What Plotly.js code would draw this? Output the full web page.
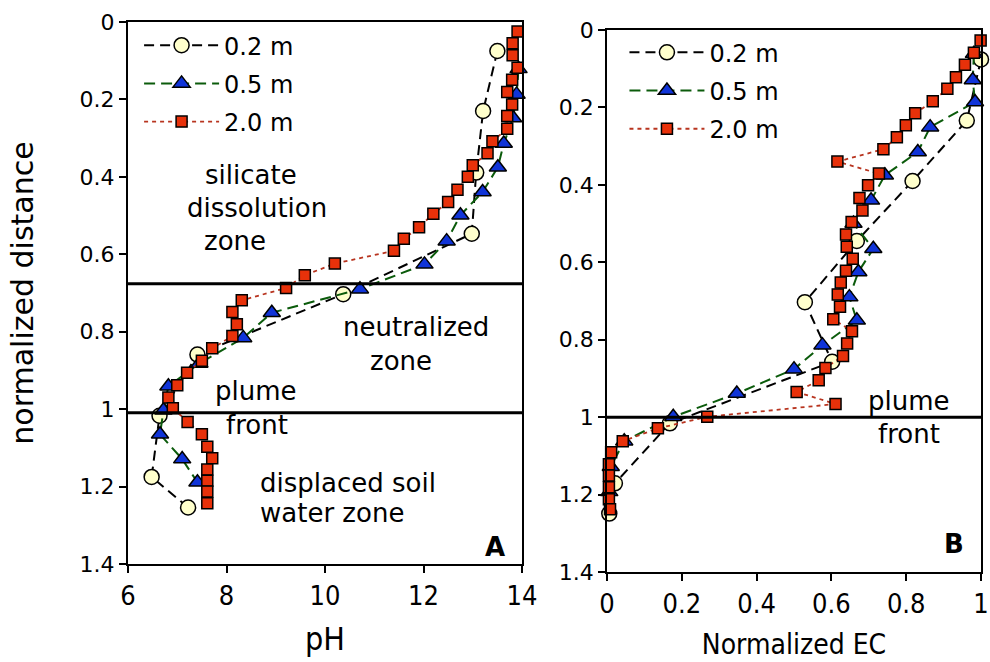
<!DOCTYPE html>
<html>
<head>
<meta charset="utf-8">
<script src="https://cdn.plot.ly/plotly-3.0.1.min.js"></script>
<style>html,body{margin:0;padding:0;background:#fff;}#chart{width:990px;height:662px;}</style>
</head>
<body>
<div id="chart"></div>
<script>
// ---------- Panel A: pH vs normalized distance ----------
const distA_02 = [0.075,0.230,0.389,0.547,0.703,0.859,1.017,1.175,1.254];
const phA_02   = [13.50,13.21,13.07,12.98,10.37,7.41,6.64,6.48,7.22];

const distA_05 = [0.121,0.187,0.248,0.314,0.375,0.439,0.499,0.566,0.626,0.690,0.751,0.816,0.882,0.941,1.003,1.065,1.129,1.189];
const phA_05   = [13.93,13.89,13.82,13.63,13.51,13.20,12.75,12.47,12.02,10.71,8.92,8.34,7.45,6.82,6.72,6.65,7.10,7.41];

const distA_20 = [0.0245,0.055,0.086,0.118,0.149,0.181,0.213,0.243,0.276,0.308,0.339,0.370,0.400,0.433,0.465,0.495,0.530,0.560,0.591,0.624,0.654,0.687,0.719,0.749,0.781,0.811,0.843,0.875,0.906,0.938,0.970,0.998,1.033,1.065,1.097,1.127,1.156,1.185,1.213,1.243];
const phA_20   = [13.91,13.81,13.81,13.91,13.80,13.70,13.80,13.70,13.70,13.40,13.30,13.00,12.90,12.69,12.50,12.20,11.91,11.60,11.40,10.20,9.59,9.21,8.31,8.12,8.21,8.12,7.71,7.50,7.20,7.00,6.82,6.91,7.21,7.50,7.61,7.71,7.61,7.61,7.61,7.61];

// ---------- Panel B: normalized EC vs normalized distance ----------
const distB_02 = [0.076,0.234,0.390,0.545,0.703,0.857,1.016,1.171,1.249];
const ecB_02   = [1.000,0.962,0.817,0.668,0.529,0.602,0.168,0.021,0.006];

const distB_05 = [0.061,0.129,0.186,0.251,0.315,0.375,0.440,0.500,0.565,0.625,0.690,0.750,0.814,0.876,0.939,0.999,1.062,1.128,1.193];
const ecB_05   = [0.981,0.978,0.984,0.864,0.831,0.743,0.706,0.659,0.712,0.672,0.648,0.668,0.576,0.500,0.347,0.177,0.046,0.010,0.006];

const distB_20 = [0.027,0.059,0.090,0.122,0.152,0.184,0.215,0.246,0.277,0.308,0.340,0.371,0.401,0.434,0.466,0.496,0.528,0.560,0.591,0.622,0.652,0.683,0.715,0.747,0.778,0.810,0.842,0.873,0.905,0.935,0.966,0.999,1.029,1.062,1.091,1.122,1.151,1.181,1.212,1.238];
const ecB_20   = [0.999,0.981,0.957,0.933,0.910,0.871,0.824,0.799,0.775,0.739,0.616,0.727,0.698,0.675,0.683,0.654,0.639,0.641,0.657,0.639,0.625,0.617,0.623,0.605,0.655,0.642,0.631,0.584,0.566,0.507,0.611,0.268,0.136,0.042,0.011,0.005,0.005,0.005,0.005,0.008];

const seriesNames = ['0.2 m','0.5 m','2.0 m'];
const phRange = [6,14];
const ecRange = [0,1];
const distRange = [1.4,0];
const zoneLinesA = [0.676, 1.0095];
const frontLineB = 1.0;

const FONT = 'DejaVu Sans, Verdana, sans-serif';
const COND = 'DejaVu Sans Condensed, DejaVu Sans, sans-serif';

const styles = [
  {line:{color:'#000000',width:2,dash:'10px,6px'}, marker:{symbol:'circle',size:15,color:'#FFFFCC',line:{color:'#000',width:1.5}}},
  {line:{color:'#0B5B0B',width:2,dash:'11px,6px'}, marker:{symbol:'triangle-up',size:15,color:'#1034D8',line:{color:'#000',width:1.5}}},
  {line:{color:'#B8341F',width:1.8,dash:'4px,4px'}, marker:{symbol:'square',size:11,color:'#E8310A',line:{color:'#000',width:1.5}}}
];

function tr(x,y,i,xa,ya,leg,grp){
  return {x:x,y:y,name:seriesNames[i],type:'scatter',mode:'lines+markers',
    xaxis:xa,yaxis:ya,legend:leg,legendgroup:grp+i,cliponaxis:false,
    line:styles[i].line,marker:styles[i].marker};
}

const data = [
  tr(phA_02,distA_02,0,'x','y','legend','a'),
  tr(phA_05,distA_05,1,'x','y','legend','a'),
  tr(phA_20,distA_20,2,'x','y','legend','a'),
  tr(ecB_02,distB_02,0,'x2','y2','legend2','b'),
  tr(ecB_05,distB_05,1,'x2','y2','legend2','b'),
  tr(ecB_20,distB_20,2,'x2','y2','legend2','b')
];

const axBase = {showline:true,linewidth:2,linecolor:'#000',mirror:true,showgrid:false,zeroline:false,
  ticks:'outside',ticklen:7,tickwidth:2,tickcolor:'#000'};

const ann = (x,y,t,xr,yr,extra)=>Object.assign({x:x,y:y,text:t,xref:xr,yref:yr,showarrow:false,
  font:{family:FONT,size:26,color:'#000'}},extra||{});

const layout = {
  width:990,height:662,
  margin:{l:128,r:9,t:21.5,b:90},
  paper_bgcolor:'#fff',plot_bgcolor:'#fff',
  font:{family:FONT,color:'#000'},
  showlegend:true,
  xaxis:Object.assign({},axBase,{domain:[0,0.4619],anchor:'y',range:phRange,dtick:2,
    tickfont:{family:COND,size:27},title:{text:'pH',font:{family:COND,size:32},standoff:17}}),
  yaxis:Object.assign({},axBase,{domain:[0.01453,1],anchor:'x',range:distRange,dtick:0.2,
    tickfont:{family:FONT,size:22},title:{text:'normalized distance',font:{family:FONT,size:30},standoff:37}}),
  xaxis2:Object.assign({},axBase,{domain:[0.5616,1],anchor:'y2',range:ecRange,dtick:0.2,
    tickfont:{family:COND,size:27},title:{text:'Normalized EC',font:{family:COND,size:28},standoff:16}}),
  yaxis2:Object.assign({},axBase,{domain:[0,0.98547],anchor:'x2',range:distRange,dtick:0.2,
    tickfont:{family:FONT,size:22}}),
  legend:{x:0.013,y:0.998,xanchor:'left',yanchor:'top',bgcolor:'rgba(0,0,0,0)',
    font:{family:FONT,size:24},itemwidth:75,tracegroupgap:4},
  legend2:{x:0.582,y:0.985,xanchor:'left',yanchor:'top',bgcolor:'rgba(0,0,0,0)',
    font:{family:FONT,size:24},itemwidth:75,tracegroupgap:4},
  shapes:[
    {type:'line',xref:'x',yref:'y',x0:6,x1:14,y0:zoneLinesA[0],y1:zoneLinesA[0],line:{color:'#000',width:3}},
    {type:'line',xref:'x',yref:'y',x0:6,x1:14.12,y0:zoneLinesA[1],y1:zoneLinesA[1],line:{color:'#000',width:3}},
    {type:'line',xref:'x2',yref:'y2',x0:-0.019,x1:1,y0:frontLineB,y1:frontLineB,line:{color:'#000',width:3}}
  ],
  annotations:[
    ann(8.50,0.396,'silicate','x','y'),
    ann(8.62,0.481,'dissolution','x','y'),
    ann(8.17,0.566,'zone','x','y'),
    ann(11.84,0.788,'neutralized','x','y'),
    ann(11.54,0.875,'zone','x','y'),
    ann(8.60,0.953,'plume','x','y'),
    ann(8.61,1.041,'front','x','y'),
    ann(8.64,1.192,'displaced soil','x','y',{xanchor:'left'}),
    ann(8.64,1.267,'water zone','x','y',{xanchor:'left'}),
    ann(13.45,1.356,'<b>A</b>','x','y',{font:{family:FONT,size:26,color:'#000'}}),
    ann(0.807,0.958,'plume','x2','y2'),
    ann(0.807,1.044,'front','x2','y2'),
    ann(0.928,1.328,'<b>B</b>','x2','y2',{font:{family:FONT,size:26,color:'#000'}})
  ]
};

Plotly.newPlot('chart',data,layout,{displayModeBar:false,staticPlot:true});
</script>
</body>
</html>
